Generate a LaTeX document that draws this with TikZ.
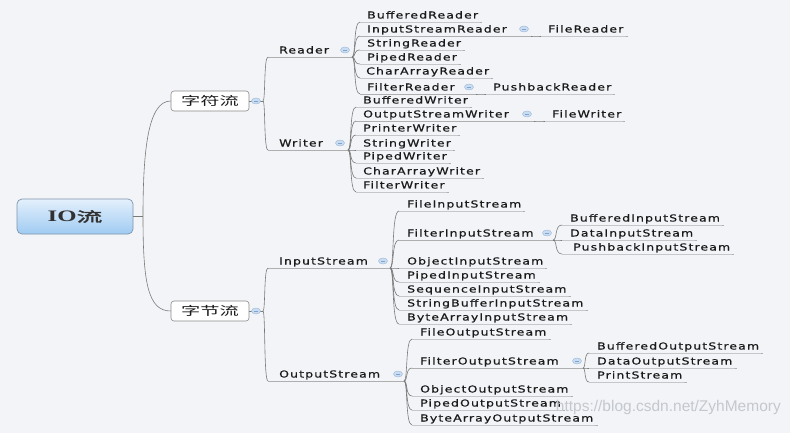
\documentclass[tikz,border=0pt]{standalone}
\usepackage{fontspec}
\usetikzlibrary{calc,shapes.geometric}
\newfontfamily\lblfont[FakeStretch=1.3,LetterSpace=11.7,FakeBold=0.6]{DejaVu Sans}
\newfontfamily\cjkfont[FakeStretch=1.6]{Noto Sans CJK SC}
\newfontfamily\cjkboldfont[FakeStretch=1.9,FakeBold=2.5]{Noto Sans CJK SC}
\newfontfamily\rootlat[FakeStretch=1.55]{Liberation Serif}
\newfontfamily\wmfont{Liberation Sans}
\definecolor{bgc}{HTML}{F2F4F7}
\definecolor{lin}{HTML}{7A7A7A}
\definecolor{txt}{HTML}{1A1A1A}
\definecolor{indf}{HTML}{C9DDF2}
\definecolor{indb}{HTML}{9DB8D6}
\definecolor{indm}{HTML}{7FA3CC}
\definecolor{boxb}{HTML}{8A8A8A}
\definecolor{rootb}{HTML}{8095AC}
\definecolor{roott}{HTML}{E4F0FC}
\definecolor{rootbot}{HTML}{9FCBF2}
\definecolor{wmc}{HTML}{C4C8CE}
\newcommand\mmleaf[5]{%
  \node[lbl] (#1) at (#2,{#3+3.5}) {#5};
  \coordinate (#1-u) at (#4,{#3+7});
  \draw[ul] (#1-u) -- (#1-u -| #1.east) -- ++(4,0);}
\newcommand\mmparent[7]{%
  \node[lbl] (#1) at (#2,{#3+3.5}) {#5};
  \coordinate (#1-u) at (#4,{#3+7});
  \coordinate (#1-f) at (#7,{#3+7});
  \draw[ul] (#1-u) -- (#1-f);
  \node[ind] (#1-i) at (#6,#3) {};}
\newcommand\mmcon[2]{%
  \draw[con] let \p1=(#1), \p2=(#2) in (\p1) .. controls ({\x1+0.5*(\x2-\x1)},\y1) and ({\x1+0.15*(\x2-\x1)},\y2) .. (\p2);}
\begin{document}
\begin{tikzpicture}[x=1pt,y=-1pt,
  lbl/.style={font=\lblfont\fontsize{9.6}{11}\selectfont, text=txt, inner sep=0pt, anchor=base west},
  ul/.style={draw=lin!60, line width=0.6pt},
  con/.style={draw=lin, line width=0.6pt},
  ind/.style={ellipse, draw=indb, fill=indf, line width=0.4pt, minimum width=9pt, minimum height=6pt, inner sep=0pt,
    path picture={\draw[indm, line width=0.6pt] ([xshift=-2pt]path picture bounding box.center) -- ([xshift=2pt]path picture bounding box.center);}},
  cnbox/.style={draw=boxb, fill=white, rounded corners=3pt, line width=0.6pt, minimum width=78pt, minimum height=20pt, inner sep=0pt, font=\cjkfont\fontsize{12}{14}\selectfont, text=txt},
  rootbox/.style={draw=rootb, top color=roott, bottom color=rootbot, rounded corners=5pt, line width=0.7pt, minimum width=116pt, minimum height=35pt, inner sep=0pt, text=txt!90},
  wm/.style={font=\wmfont\fontsize{15.5}{17}\selectfont, text=wmc, inner sep=0pt}
]
\fill[bgc] (0,0) rectangle (790,433);
\useasboundingbox (0,0) rectangle (790,433);

% root and first level
\node[rootbox] (root) at (75,216.5) {{\rootlat\fontsize{16}{18}\selectfont\bfseries IO}{\cjkboldfont\fontsize{13.5}{16}\selectfont 流}};
\node[cnbox] (zifu) at (210,101) {字符流};
\node[cnbox] (zijie) at (210,311) {字节流};
\coordinate (root-f) at (143,216.5);
\draw[con] (root.east) -- (root-f);
\draw[con] (root-f) .. controls (143,150) and (148,101) .. (zifu.west);
\draw[con] (root-f) .. controls (143,283) and (148,311) .. (zijie.west);
\coordinate (zifu-f) at (263,101);
\coordinate (zijie-f) at (263,311);
\draw[con] (zifu.east) -- (zifu-f);
\draw[con] (zijie.east) -- (zijie-f);
\node[ind] (zifu-i) at (256,101) {};
\node[ind] (zijie-i) at (256,311) {};

% second level
\mmparent{reader}{279}{50}{268}{Reader}{345}{352}
\mmparent{writer}{279}{143}{268}{Writer}{340}{348}
\mmparent{ins}{279}{261}{268}{InputStream}{383}{390}
\mmparent{outs}{279}{374}{268}{OutputStream}{398}{404}
\mmcon{zifu-f}{reader-u}
\mmcon{zifu-f}{writer-u}
\mmcon{zijie-f}{ins-u}
\mmcon{zijie-f}{outs-u}

% Reader
\mmleaf{r1}{367}{15}{360}{BufferedReader}
\mmparent{r2}{367}{29}{360}{InputStreamReader}{524}{531}
\mmleaf{r3}{367}{43}{360}{StringReader}
\mmleaf{r4}{367}{57}{360}{PipedReader}
\mmleaf{r5}{366}{71}{360}{CharArrayReader}
\mmparent{r6}{367}{87}{360}{FilterReader}{469}{476}
\mmleaf{r21}{548}{29}{541}{FileReader}
\mmleaf{r61}{493}{87}{486}{PushbackReader}
\foreach \c in {r1,r2,r3,r4,r5,r6} {\mmcon{reader-f}{\c-u}}
\mmcon{r2-f}{r21-u}
\mmcon{r6-f}{r61-u}

% Writer
\mmleaf{w1}{363}{100}{356}{BufferedWriter}
\mmparent{w2}{363}{114}{356}{OutputStreamWriter}{527}{534}
\mmleaf{w3}{363}{128}{356}{PrinterWriter}
\mmleaf{w4}{363}{143}{356}{StringWriter}
\mmleaf{w5}{363}{156}{356}{PipedWriter}
\mmleaf{w6}{363}{171}{356}{CharArrayWriter}
\mmleaf{w7}{363}{185}{356}{FilterWriter}
\mmleaf{w21}{552}{114}{545}{FileWriter}
\foreach \c in {w1,w2,w3,w4,w5,w6,w7} {\mmcon{writer-f}{\c-u}}
\mmcon{w2-f}{w21-u}

% InputStream
\mmleaf{i1}{407}{204}{399}{FileInputStream}
\mmparent{i2}{407}{233}{399}{FilterInputStream}{547}{553}
\mmleaf{i3}{407}{261}{399}{ObjectInputStream}
\mmleaf{i4}{407}{275}{399}{PipedInputStream}
\mmleaf{i5}{407}{289}{399}{SequenceInputStream}
\mmleaf{i6}{407}{303}{399}{StringBufferInputStream}
\mmleaf{i7}{407}{317}{399}{ByteArrayInputStream}
\mmleaf{i21}{570}{218}{562}{BufferedInputStream}
\mmleaf{i22}{570}{233}{562}{DataInputStream}
\mmleaf{i23}{573}{247}{562}{PushbackInputStream}
\foreach \c in {i1,i2,i3,i4,i5,i6,i7} {\mmcon{ins-f}{\c-u}}
\foreach \c in {i21,i22,i23} {\mmcon{i2-f}{\c-u}}

% OutputStream
\mmleaf{o1}{420}{332}{412}{FileOutputStream}
\mmparent{o2}{420}{361}{412}{FilterOutputStream}{577}{583}
\mmleaf{o3}{420}{389}{412}{ObjectOutputStream}
\mmleaf{o4}{420}{403}{412}{PipedOutputStream}
\mmleaf{o5}{420}{418}{412}{ByteArrayOutputStream}
\mmleaf{o21}{597}{346}{589}{BufferedOutputStream}
\mmleaf{o22}{597}{361}{589}{DataOutputStream}
\mmleaf{o23}{597}{375}{589}{PrintStream}
\foreach \c in {o1,o2,o3,o4,o5} {\mmcon{outs-f}{\c-u}}
\foreach \c in {o21,o22,o23} {\mmcon{o2-f}{\c-u}}

% watermark
\node[wm, anchor=east] (wm) at (781,407) {https://blog.csdn.net/ZyhMemory};
\end{tikzpicture}
\end{document}
